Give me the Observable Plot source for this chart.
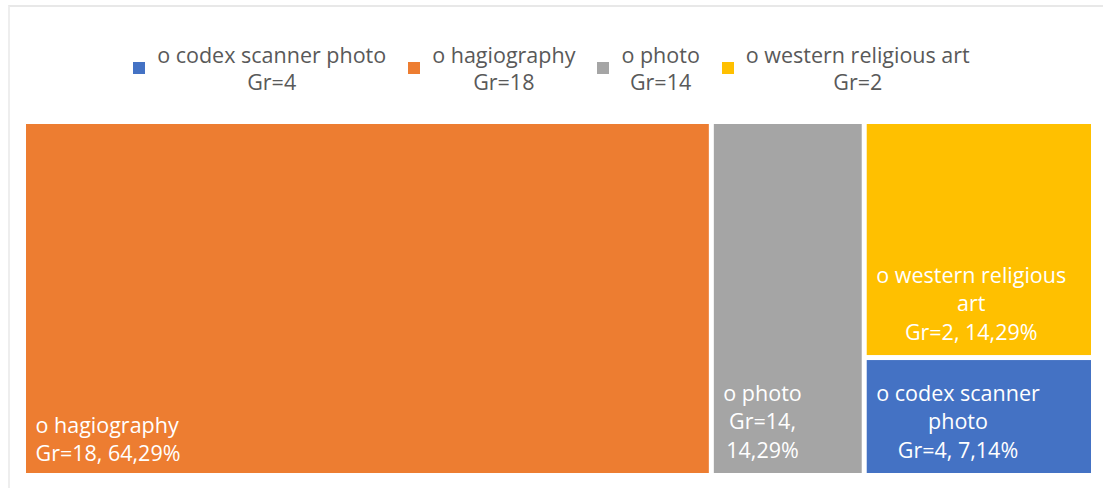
<!DOCTYPE html>
<html>
<head>
<meta charset="utf-8">
<script src="https://cdn.jsdelivr.net/npm/d3@7"></script>
<script src="https://cdn.jsdelivr.net/npm/@observablehq/plot@0.6"></script>
<style>
  html, body { margin: 0; padding: 0; background: #fff; width: 1103px; height: 488px; overflow: hidden; font-family: "Open Sans", sans-serif; }
  #frame { position: absolute; left: 8px; top: 5px; right: -10px; bottom: -10px; border-top: 2px solid #e8e8e8; border-left: 2px solid #eeeeee; }
  #legend { position: absolute; left: 0; right: 0; top: 41px; display: flex; justify-content: center; align-items: center; gap: 22px; color: #595959; font-size: 21.5px; line-height: 27px; }
  .item { display: flex; align-items: center; }
  .sw { width: 12px; height: 12px; margin-right: 12px; flex: none; }
  .lbl { text-align: center; white-space: pre; }
  #chart { position: absolute; left: 0; top: 110px; }
</style>
</head>
<body>
<div id="frame"></div>
<div id="legend"></div>
<div id="chart"></div>
<script>
// Treemap of image categories: share of items (%) and group counts
const categories = ["codex scanner photo", "hagiography", "photo", "western religious art"];
const groupCounts = [4, 18, 14, 2];
const shares = [7.14, 64.29, 14.29, 14.29];
const colors = ["#4472C4", "#ED7D31", "#A5A5A5", "#FFC000"];

const FONT = "Open Sans";
const FS = 21.5;

// Legend
const legend = document.getElementById("legend");
categories.forEach((c, i) => {
  const item = document.createElement("div");
  item.className = "item";
  const sw = document.createElement("div");
  sw.className = "sw";
  sw.style.background = colors[i];
  const lbl = document.createElement("div");
  lbl.className = "lbl";
  lbl.textContent = `o ${c}\nGr=${groupCounts[i]}`;
  item.append(sw, lbl);
  legend.append(item);
});

// Plot frame
const width = 1103, height = 378;
const mL = 26, mR = 12, mT = 14, mB = 15;
const iw = width - mL - mR, ih = height - mT - mB;

const fmtPct = v => d3.format(".2f")(v).replace(".", ",") + "%";

const root = d3.hierarchy({children: categories.map((name, i) => ({name, gr: groupCounts[i], share: shares[i]}))})
  .sum(d => d.share || 0)
  .sort((a, b) => b.value - a.value);
d3.treemap().tile(d3.treemapBinary).size([iw, ih]).paddingInner(5)(root);

// word wrap with measured text widths
const ctx = document.createElement("canvas").getContext("2d");
ctx.font = `${FS}px "${FONT}"`;
const tw = s => ctx.measureText(s).width;
function wrap(text, maxW) {
  const words = text.split(" ");
  const out = [];
  let cur = "";
  for (const w of words) {
    const t = cur ? cur + " " + w : w;
    if (cur && tw(t) > maxW) { out.push(cur); cur = w; } else cur = t;
  }
  if (cur) out.push(cur);
  return out;
}

const pad = 9;
const leaves = root.leaves().map(n => {
  const maxW = n.x1 - n.x0 - 2 * pad;
  const lines = [
    ...wrap(`o ${n.data.name}`, maxW),
    ...wrap(`Gr=${n.data.gr}, ${fmtPct(n.data.share)}`, maxW)
  ];
  return {name: n.data.name, x0: n.x0, x1: n.x1, y0: n.y0, y1: n.y1, lines, blockW: d3.max(lines, tw)};
});

const plain = leaves.filter(d => d.lines.length <= 2);
const wrapped = leaves.filter(d => d.lines.length > 2);

const chart = Plot.plot({
  width, height,
  marginLeft: mL, marginRight: mR, marginTop: mT, marginBottom: mB,
  x: {domain: [0, iw], axis: null},
  y: {domain: [0, ih], axis: null, reverse: true},
  color: {domain: categories, range: colors},
  style: {fontFamily: FONT, background: "transparent"},
  marks: [
    Plot.rect(leaves, {x1: "x0", x2: "x1", y1: "y0", y2: "y1", fill: "name"}),
    Plot.text(plain, {
      x: d => d.x0 + pad, y: d => d.y1 - 13,
      text: d => d.lines.join("\n"),
      textAnchor: "start", lineAnchor: "bottom", lineHeight: 1.3,
      fill: "white", fontSize: FS
    }),
    Plot.text(wrapped, {
      x: d => d.x0 + pad + d.blockW / 2, y: d => d.y1 - 16,
      text: d => d.lines.join("\n"),
      textAnchor: "middle", lineAnchor: "bottom", lineHeight: 1.32,
      fill: "white", fontSize: FS
    })
  ]
});
document.getElementById("chart").append(chart);
</script>
</body>
</html>
